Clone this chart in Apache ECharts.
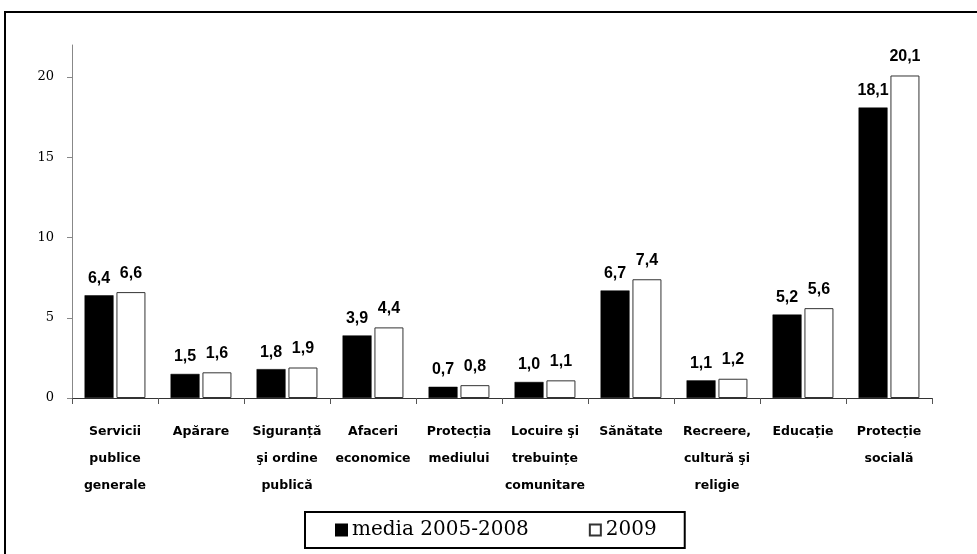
<!DOCTYPE html>
<html>
<head>
<meta charset="utf-8">
<script src="https://cdn.jsdelivr.net/npm/echarts@6/dist/echarts.min.js"></script>
<style>
  html, body { margin: 0; padding: 0; background: #fff; }
  #chart { width: 977px; height: 554px; }
</style>
</head>
<body>
<div id="chart"></div>
<script>
// Government expenditure by function (% of GDP)
const categories = [
  'Servicii\npublice\ngenerale',
  'Apărare',
  'Siguranță\nşi ordine\npublică',
  'Afaceri\neconomice',
  'Protecția\nmediului',
  'Locuire şi\ntrebuințe\ncomunitare',
  'Sănătate',
  'Recreere,\ncultură şi\nreligie',
  'Educație',
  'Protecție\nsocială'
];
const seriesNames = ['media 2005-2008', '2009'];
const avg2005_2008 = [6.4, 1.5, 1.8, 3.9, 0.7, 1.0, 6.7, 1.1, 5.2, 18.1];
const values2009 = [6.6, 1.6, 1.9, 4.4, 0.8, 1.1, 7.4, 1.2, 5.6, 20.1];
const yTicks = [0, 5, 10, 15, 20];

const chart = echarts.init(document.getElementById('chart'), null, { renderer: 'canvas' });

const valueLabel = (dist) => ({
  show: true,
  position: 'top',
  distance: dist,
  fontFamily: 'Liberation Sans, Arial, sans-serif',
  fontWeight: 'bold',
  fontSize: 16,
  color: '#000',
  formatter: (p) => p.value.toFixed(1).replace('.', ',')
});

chart.setOption({
  animation: false,
  backgroundColor: '#fff',
  graphic: [{
    type: 'rect',
    shape: { x: 5, y: 12, width: 1000, height: 600 },
    style: { fill: 'none', stroke: '#000', lineWidth: 2 },
    z: 100
  }],
  grid: { left: 72, right: 45, top: 45, bottom: 156 },
  legend: {
    left: 305,
    top: 512,
    orient: 'horizontal',
    padding: [8, 28, 8, 30],
    itemGap: 60,
    itemWidth: 11,
    itemHeight: 11,
    icon: 'rect',
    borderColor: '#000',
    borderWidth: 2,
    textStyle: {
      fontFamily: 'DejaVu Serif, Georgia, serif',
      fontSize: 20,
      color: '#000'
    },
    data: seriesNames
  },
  xAxis: {
    type: 'category',
    data: categories,
    axisLine: { lineStyle: { color: '#333', width: 1 } },
    axisTick: { show: true, length: 6, lineStyle: { color: '#555' } },
    axisLabel: {
      interval: 0,
      margin: 20,
      fontFamily: 'DejaVu Sans, sans-serif',
      fontWeight: 'bold',
      fontSize: 12.5,
      lineHeight: 27,
      color: '#000',
      verticalAlign: 'top'
    }
  },
  yAxis: {
    type: 'value',
    min: 0,
    max: 22,
    interval: 5,
    splitLine: { show: false },
    axisLine: { show: true, lineStyle: { color: '#888', width: 1 } },
    axisTick: { show: true, length: 5, lineStyle: { color: '#888' }, customValues: yTicks },
    axisLabel: {
      margin: 18,
      fontFamily: 'DejaVu Serif, Georgia, serif',
      fontSize: 13,
      color: '#000',
      customValues: yTicks
    }
  },
  series: [
    {
      name: seriesNames[0],
      type: 'bar',
      data: avg2005_2008,
      barWidth: 29,
      barGap: '10%',
      itemStyle: { color: '#000', borderColor: '#000', borderWidth: 0.5 },
      label: valueLabel(9)
    },
    {
      name: seriesNames[1],
      type: 'bar',
      data: values2009,
      barWidth: 29,
      barGap: '10%',
      itemStyle: { color: '#fff', borderColor: '#333', borderWidth: 1 },
      label: valueLabel(11)
    }
  ]
});
</script>
</body>
</html>
